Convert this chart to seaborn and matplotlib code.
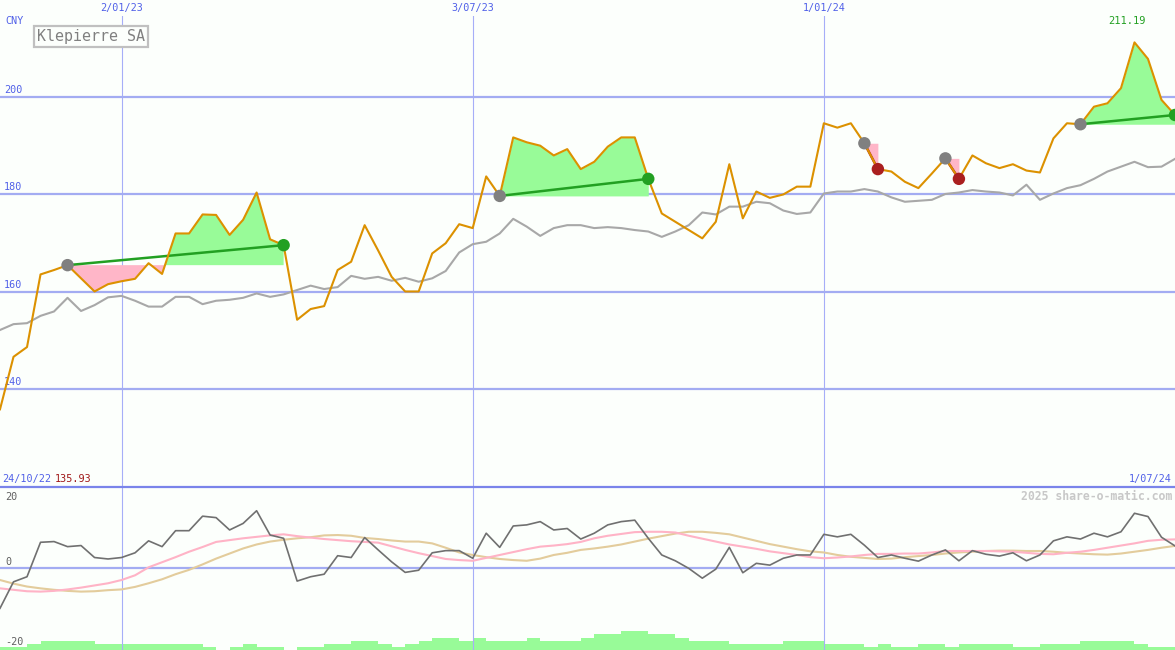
import numpy as np
import pandas as pd
import matplotlib
matplotlib.use("Agg")
import matplotlib.pyplot as plt
import seaborn as sns

# ===================== data (weekly, index 0 = 24/10/22) =====================
price = [135.93, 146.7, 148.7, 163.6, 164.5, 165.5, 162.8, 160.1, 161.6, 162.2,
         162.7, 165.9, 163.7, 172.0, 172.0, 175.9, 175.8, 171.7, 174.8, 180.4,
         170.8, 169.6, 154.3, 156.5, 157.1, 164.5, 166.2, 173.7, 168.5, 163.1,
         160.1, 160.1, 167.9, 170.0, 173.9, 173.1, 183.7, 179.7, 191.7, 190.7,
         190.0, 188.0, 189.3, 185.2, 186.7, 189.8, 191.7, 191.7, 183.2, 176.1,
         174.4, 172.7, 171.0, 174.4, 186.2, 175.1, 180.6, 179.3, 180.0, 181.6,
         181.6, 194.6, 193.7, 194.6, 190.5, 185.2, 184.7, 182.6, 181.3, 184.3,
         187.4, 183.2, 188.0, 186.4, 185.4, 186.2, 184.9, 184.5, 191.5, 194.6,
         194.4, 198.0, 198.7, 201.8, 211.19, 207.8, 199.4, 196.3]

bench = [152.2, 153.4, 153.6, 155.1, 156.0, 158.8, 156.1, 157.3, 158.9, 159.2,
         158.2, 157.0, 157.0, 159.0, 159.0, 157.5, 158.2, 158.4, 158.8, 159.7,
         159.0, 159.5, 160.4, 161.3, 160.6, 161.0, 163.3, 162.7, 163.1, 162.3,
         162.9, 162.1, 162.8, 164.3, 168.1, 169.8, 170.3, 172.0, 175.0, 173.4,
         171.5, 173.1, 173.7, 173.7, 173.1, 173.3, 173.1, 172.7, 172.4, 171.3,
         172.4, 173.7, 176.3, 175.9, 177.5, 177.5, 178.5, 178.2, 176.7, 176.0,
         176.3, 180.2, 180.6, 180.6, 181.1, 180.6, 179.4, 178.5, 178.7, 178.9,
         180.1, 180.4, 180.9, 180.6, 180.4, 179.8, 182.0, 178.9, 180.2, 181.3,
         181.9, 183.2, 184.7, 185.7, 186.7, 185.6, 185.7, 187.3]

momentum = [-11.1, -3.8, -2.4, 7.1, 7.3, 5.9, 6.2, 2.9, 2.5, 2.9,
            4.2, 7.5, 5.9, 10.3, 10.3, 14.3, 13.9, 10.5, 12.3, 15.8,
            9.1, 8.2, -3.6, -2.4, -1.7, 3.4, 2.9, 8.4, 5.0, 1.7,
            -1.2, -0.6, 4.2, 4.8, 4.8, 2.7, 9.6, 5.7, 11.6, 11.9,
            12.8, 10.5, 10.9, 8.0, 9.6, 11.9, 12.8, 13.2, 8.2, 3.6,
            2.0, -0.1, -2.8, -0.3, 5.7, -1.3, 1.3, 0.8, 2.7, 3.6,
            3.6, 9.3, 8.6, 9.3, 6.3, 2.9, 3.6, 2.7, 1.9, 3.6,
            5.0, 2.0, 4.8, 3.8, 3.3, 4.2, 2.0, 3.6, 7.5, 8.6,
            8.0, 9.6, 8.6, 10.0, 15.1, 14.2, 8.5, 6.1]

signal_fast = [-5.6, -6.0, -6.4, -6.5, -6.3, -5.9, -5.4, -4.8, -4.2, -3.3,
               -2.0, 0.2, 1.6, 3.0, 4.5, 5.8, 7.2, 7.7, 8.2, 8.6,
               9.0, 9.3, 8.8, 8.4, 8.0, 7.7, 7.4, 7.2, 7.0, 6.0,
               5.0, 4.1, 3.3, 2.5, 2.2, 2.0, 2.8, 3.6, 4.4, 5.2,
               5.9, 6.2, 6.6, 7.2, 8.2, 8.9, 9.4, 9.9, 10.0, 10.0,
               9.8, 8.9, 8.1, 7.3, 6.5, 5.9, 5.3, 4.6, 4.1, 3.6,
               3.0, 2.7, 2.9, 3.2, 3.6, 3.9, 3.9, 4.0, 4.0, 4.3,
               4.7, 4.7, 4.7, 4.7, 4.6, 4.5, 4.2, 3.9, 3.8, 4.2,
               4.5, 5.0, 5.6, 6.2, 6.8, 7.5, 7.8, 7.9]

signal_slow = [-3.3, -4.3, -5.1, -5.6, -6.0, -6.3, -6.5, -6.4, -6.1, -5.9,
               -5.2, -4.2, -3.1, -1.7, -0.5, 1.0, 2.6, 4.0, 5.4, 6.5,
               7.3, 7.8, 8.2, 8.5, 9.0, 9.1, 8.9, 8.3, 8.0, 7.6,
               7.3, 7.3, 6.8, 5.6, 4.3, 3.6, 3.0, 2.5, 2.2, 2.0,
               2.6, 3.6, 4.2, 5.0, 5.4, 5.9, 6.5, 7.3, 8.1, 8.8,
               9.5, 10.0, 10.0, 9.7, 9.3, 8.4, 7.5, 6.6, 5.9, 5.2,
               4.6, 4.3, 3.6, 3.1, 2.8, 2.5, 2.6, 3.0, 3.3, 3.6,
               4.0, 4.3, 4.5, 4.7, 4.8, 4.8, 4.7, 4.7, 4.5, 4.2,
               4.0, 3.8, 3.7, 4.0, 4.5, 5.0, 5.6, 6.1]

volume = [1, 1, 2, 3, 3, 3, 3, 2, 2, 2, 2, 2, 2, 2, 2, 1, 0, 1, 2, 1,
          1, 0, 1, 1, 2, 2, 3, 3, 2, 1, 2, 3, 4, 4, 3, 4, 3, 3, 3, 4,
          3, 3, 3, 4, 5, 5, 6, 6, 5, 5, 4, 3, 3, 3, 2, 2, 2, 2, 3, 3,
          3, 2, 2, 2, 1, 2, 1, 1, 2, 2, 1, 2, 2, 2, 2, 1, 1, 2, 2, 2,
          3, 3, 3, 3, 2, 1, 1]

# trades: (entry week, exit week)
trades = [(5, 21), (37, 48), (64, 65), (70, 71), (80, 87)]

grid_prices = [140, 160, 180, 200]
osc_labels = [20, 0, -20]
date_ticks = [9, 35, 61]
date_labels = ["2/01/23", "3/07/23", "1/01/24"]
first_date, last_date = "24/10/22", "1/07/24"

df = pd.DataFrame({"week": np.arange(len(price)), "close": price, "bench": bench,
                   "mom": momentum, "fast": signal_fast, "slow": signal_slow})

# ===================== style =====================
BG = "#fcfffc"
BLUE = "#5060e8"
GRID = "#a3acf2"
plt.rcParams["font.family"] = ["DejaVu Sans Mono"]

fig = plt.figure(figsize=(11.75, 6.5), dpi=100, facecolor=BG)
ax = fig.add_axes([0, 163 / 650, 1, 471 / 650], facecolor=BG)
ax2 = fig.add_axes([0, 0, 1, 162 / 650], facecolor=BG)

n = len(price) - 1
for a in (ax, ax2):
    a.set_xlim(0, n)
    a.set_xticks([])
    a.set_yticks([])
    for s in a.spines.values():
        s.set_visible(False)
    for d in date_ticks:
        a.axvline(d, color="#a6aef8", lw=0.8, zorder=0)

ax.set_ylim(120.0, 216.6)
ax2.set_ylim(-22.6, 22.07)

# ===================== main panel =====================
for g in grid_prices:
    ax.axhline(g, color=GRID, lw=1.6, zorder=0)
    ax.annotate(str(g), xy=(0, g), xycoords=("axes fraction", "data"),
                xytext=(4, 2), textcoords="offset pixels", ha="left", va="bottom",
                fontsize=7.3, color=BLUE)

x = df["week"].values
close = df["close"].values
for e, q in trades:
    xs = x[e:q + 1]
    ys = close[e:q + 1]
    base = close[e]
    ax.fill_between(xs, ys, base, where=ys >= base, interpolate=True,
                    color="#98fb98", lw=0, zorder=1)
    ax.fill_between(xs, ys, base, where=ys < base, interpolate=True,
                    color="#ffb6c8", lw=0, zorder=1)

sns.lineplot(data=df, x="week", y="bench", ax=ax, color="#a8a8a8", lw=1.5, zorder=2)
sns.lineplot(data=df, x="week", y="close", ax=ax, color="#dc9100", lw=1.5, zorder=3)

for e, q in trades:
    win = close[q] > close[e]
    col = "#22a022" if win else "#aa1f1f"
    ax.plot([e, q], [close[e], close[q]], color=col, lw=1.8, zorder=2.5)
    sns.scatterplot(x=[e], y=[close[e]], ax=ax, color="#808080", s=80,
                    edgecolor="none", zorder=5)
    sns.scatterplot(x=[q], y=[close[q]], ax=ax, color=col, s=80,
                    edgecolor="none", zorder=5)

ax.set_xlabel("")
ax.set_ylabel("")

imax = int(np.argmax(close))
ax.annotate(f"{close[imax]:.2f}", xy=(imax, 1.0), xycoords=("data", "axes fraction"),
            xytext=(-7, -5), textcoords="offset pixels", ha="center", va="center",
            fontsize=7.5, color="#22a022")

# top date labels
for d, lbl in zip(date_ticks, date_labels):
    ax.annotate(lbl, xy=(d, 1.0), xycoords=("data", "axes fraction"),
                xytext=(0, 8), textcoords="offset pixels", ha="center", va="center",
                fontsize=7.3, color=BLUE, annotation_clip=False)

fig.text(5 / 1175, 1 - 21 / 650, "CNY", ha="left", va="center", fontsize=7.3, color=BLUE)
fig.text(91 / 1175, 1 - 36.5 / 650, "Klepierre SA", ha="center", va="center",
         fontsize=10.8, color="#808080",
         bbox=dict(boxstyle="square,pad=0.22", facecolor=BG, edgecolor="#c0c0c0", lw=1.6))

# labels just above the panel separator
ax.annotate(first_date, xy=(0, 0), xycoords="axes fraction", xytext=(2, 8),
            textcoords="offset pixels", ha="left", va="center", fontsize=7.3, color=BLUE)
ax.annotate(f"{close[0]:.2f}", xy=(0, 0), xycoords="axes fraction", xytext=(55, 8),
            textcoords="offset pixels", ha="left", va="center", fontsize=7.3, color="#a01818")
ax.annotate(last_date, xy=(1, 0), xycoords="axes fraction", xytext=(-3, 8),
            textcoords="offset pixels", ha="right", va="center", fontsize=7.3, color=BLUE)

# separator between panels
fig.add_artist(plt.Line2D([0, 1], [163 / 650, 163 / 650], color="#7a84ea", lw=1.6))

# ===================== lower panel =====================
ax3 = ax2.twinx()
ax3.set_ylim(0, 52)
ax3.set_yticks([])
for s in ax3.spines.values():
    s.set_visible(False)
ax3.bar(np.arange(len(volume)), volume, width=1.0, align="edge",
        color="#98fb98", lw=0, zorder=1)
ax3.set_xlim(0, n)
ax2.set_zorder(ax3.get_zorder() + 1)
ax2.patch.set_visible(False)
ax3.patch.set_facecolor(BG)

ax2.axhline(0, color=GRID, lw=1.6, zorder=0)
for v in osc_labels:
    dy = 6 if v == 0 else -1.5
    ax2.annotate(str(v), xy=(0, v), xycoords=("axes fraction", "data"),
                 xytext=(5, dy), textcoords="offset pixels", ha="left", va="center",
                 fontsize=7.3, color="#606060")

sns.lineplot(data=df, x="week", y="slow", ax=ax2, color="#e3cc9c", lw=1.5, zorder=2)
sns.lineplot(data=df, x="week", y="fast", ax=ax2, color="#ffb3c6", lw=1.5, zorder=2)
sns.lineplot(data=df, x="week", y="mom", ax=ax2, color="#707070", lw=1.2, zorder=3)
ax2.set_xlabel("")
ax2.set_ylabel("")

ax2.annotate("2025 share-o-matic.com", xy=(1, 1), xycoords="axes fraction",
             xytext=(-3, -8), textcoords="offset pixels", ha="right", va="center",
             fontsize=8.3, fontweight="bold", color="#c8c8c8")

fig.savefig("out.png", dpi=100, facecolor=BG)
plt.close(fig)
